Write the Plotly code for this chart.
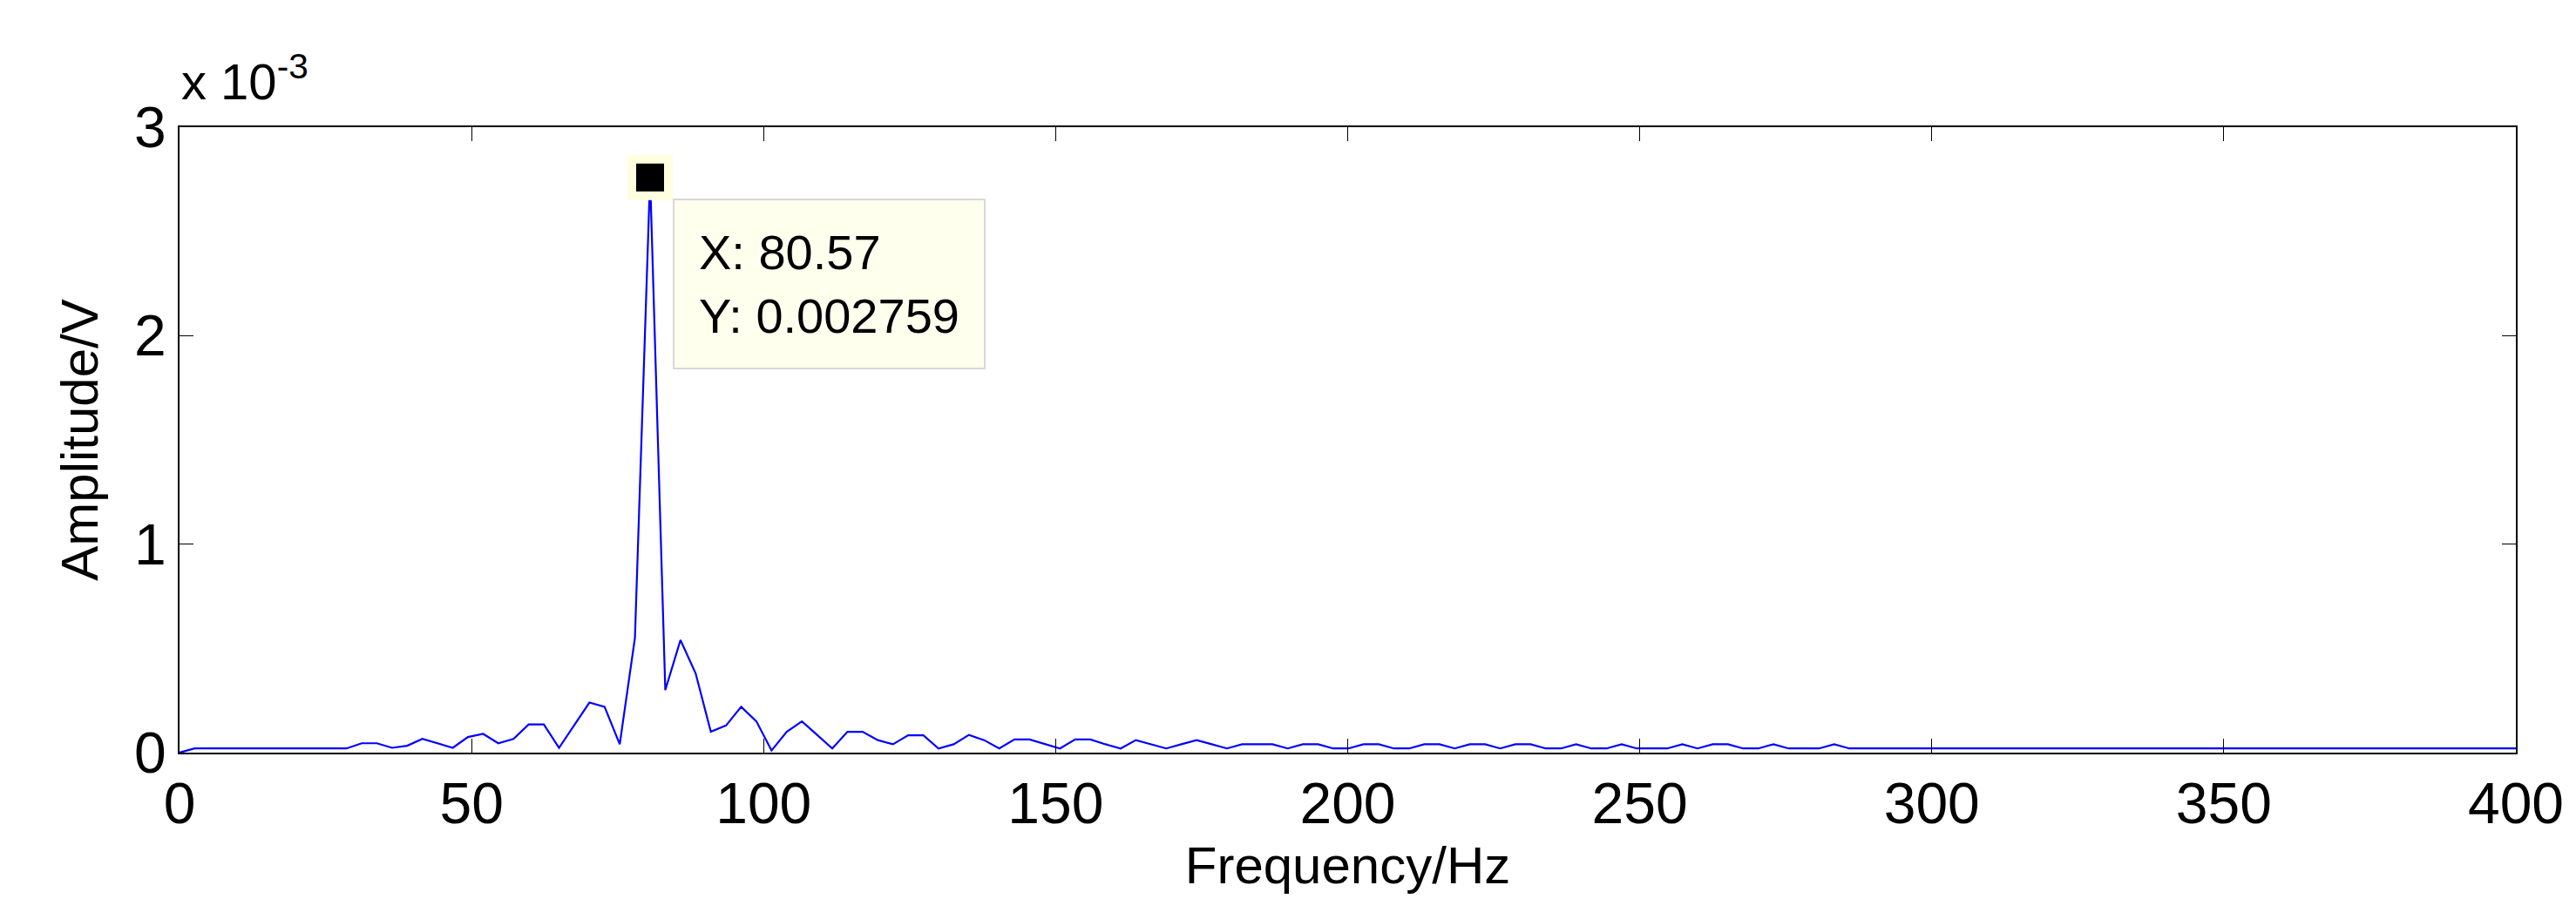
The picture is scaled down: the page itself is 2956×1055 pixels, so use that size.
import numpy as np
import plotly.graph_objects as go

# spectrum, bin spacing ~2.599 Hz, amplitude in mV
DF = 2.599
amp_mv = [
    0.0, 0.02, 0.02, 0.02, 0.02, 0.02, 0.02, 0.02, 0.02, 0.02,
    0.02, 0.02, 0.045, 0.045, 0.023, 0.033, 0.066, 0.045, 0.023, 0.075,
    0.09, 0.045, 0.066, 0.135, 0.135, 0.023, 0.13, 0.24, 0.22, 0.04,
    0.55, 2.759, 0.3, 0.54, 0.38, 0.1, 0.13, 0.22, 0.15, 0.01,
    0.1, 0.15, 0.085, 0.02, 0.1, 0.1, 0.06, 0.04, 0.083, 0.083,
    0.02, 0.04, 0.085, 0.06, 0.02, 0.063, 0.063, 0.04, 0.02, 0.063,
    0.063, 0.04, 0.02, 0.06, 0.04, 0.02, 0.04, 0.06, 0.04, 0.02,
    0.04, 0.04, 0.04, 0.02, 0.04, 0.04, 0.02, 0.02, 0.04, 0.04,
    0.02, 0.02, 0.04, 0.04, 0.02, 0.04, 0.04, 0.02, 0.04, 0.04,
    0.02, 0.02, 0.04, 0.02, 0.02, 0.04, 0.02, 0.02, 0.02, 0.04,
    0.02, 0.04, 0.04, 0.02, 0.02, 0.04, 0.02, 0.02, 0.02, 0.04,
]
amp_mv += [0.02] * (155 - len(amp_mv))
freq = np.arange(len(amp_mv)) * DF
amp = np.array(amp_mv) * 1e-3

peak_i = int(np.argmax(amp))
tip_x, tip_y = 80.57, 0.002759

x_ticks = [0, 50, 100, 150, 200, 250, 300, 350, 400]
y_ticks = [0, 0.001, 0.002, 0.003]
y_labels = ["0", "1", "2", "3"]

FONT = "Liberation Sans, Arial, sans-serif"

fig = go.Figure()
fig.add_trace(go.Scatter(x=freq, y=amp, mode="lines",
                         line=dict(color="#0000ff", width=2.2), hoverinfo="skip"))
fig.add_trace(go.Scatter(x=[freq[peak_i]], y=[amp[peak_i]], mode="markers",
                         marker=dict(symbol="square", size=42, color="black",
                                     line=dict(color="#ffffe0", width=10))))

fig.add_annotation(x=freq[peak_i], y=amp[peak_i], xref="x", yref="y",
                   text=f"X: {tip_x}<br>Y: {tip_y}", showarrow=False,
                   xanchor="left", yanchor="top", align="left",
                   xshift=26, yshift=-24,
                   font=dict(family=FONT, size=56, color="black"),
                   bgcolor="#ffffee", bordercolor="#d8d8d8", borderwidth=2,
                   borderpad=28)
fig.add_annotation(x=0, y=1, xref="paper", yref="paper",
                   text="x 10<sup>-3</sup>", showarrow=False,
                   xanchor="left", yanchor="bottom", yshift=18,
                   font=dict(family=FONT, size=58, color="black"))

axis_common = dict(showgrid=False, zeroline=False, showline=True, linecolor="black",
                   linewidth=2, mirror="ticks", ticks="inside", ticklen=16,
                   tickcolor="black", tickfont=dict(family=FONT, size=66, color="black"))
fig.update_xaxes(range=[0, 400], tickvals=x_ticks,
                 title=dict(text="Frequency/Hz", font=dict(family=FONT, size=60, color="black"),
                            standoff=14),
                 **axis_common)
fig.update_yaxes(range=[0, 0.003], tickvals=y_ticks, ticktext=y_labels,
                 title=dict(text="Amplitude/V", font=dict(family=FONT, size=60, color="black"),
                            standoff=22),
                 **axis_common)
fig.update_layout(width=2956, height=1055, showlegend=False,
                  plot_bgcolor="white", paper_bgcolor="white",
                  margin=dict(l=198, r=77, t=138, b=199))
fig.write_html("out.html")
